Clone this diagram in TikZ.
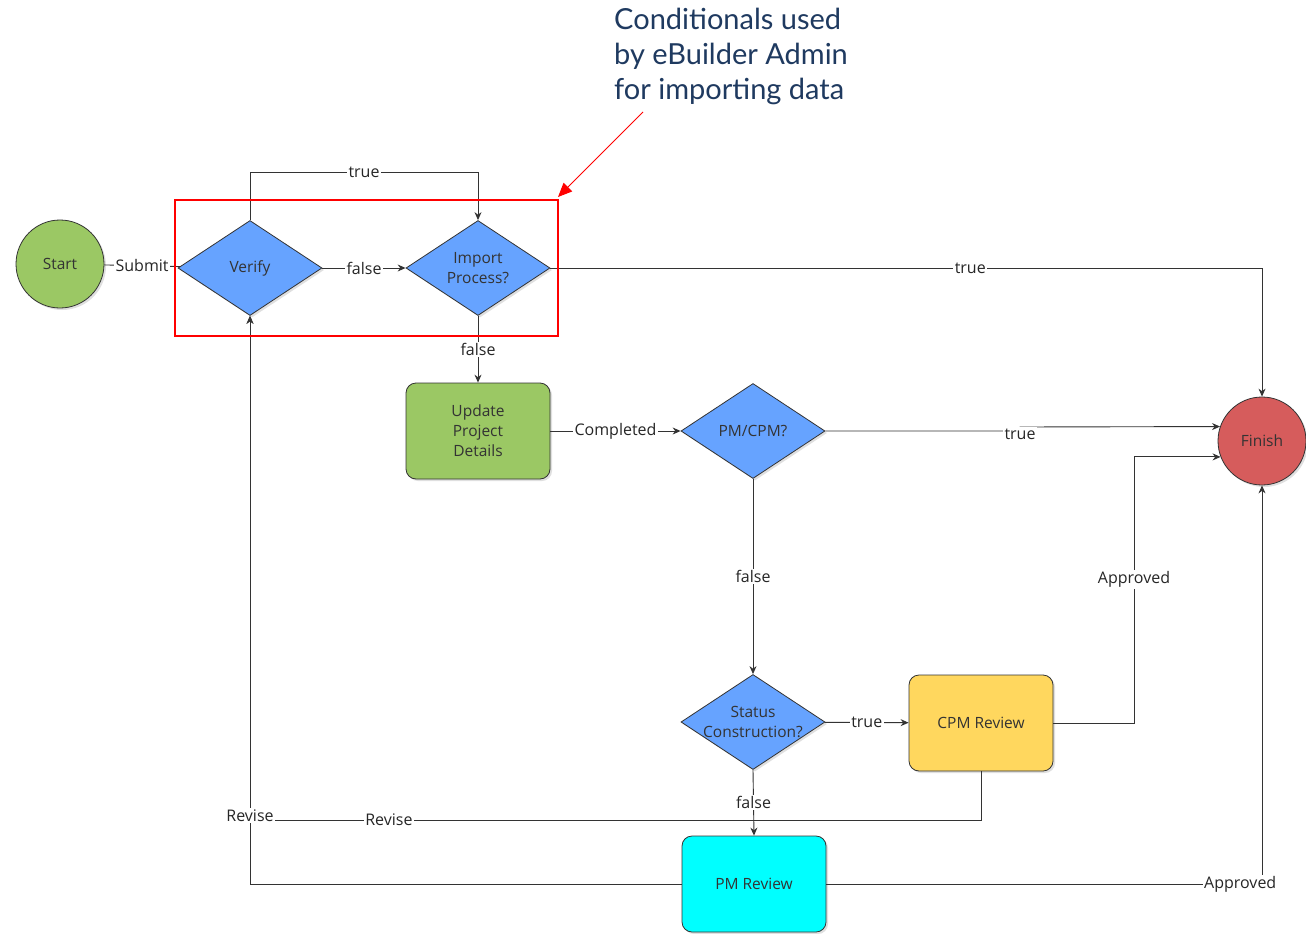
\documentclass[tikz,border=0pt]{standalone}
\usepackage{fontspec}
\setmainfont{Open Sans}
\newfontfamily\annfont{Lato}
\usetikzlibrary{shapes.geometric,arrows.meta,shadows}
\definecolor{dblue}{HTML}{66A3FF}
\definecolor{sgreen}{HTML}{9BC864}
\definecolor{fred}{HTML}{D65C5C}
\definecolor{cyel}{HTML}{FFD75E}
\definecolor{pmcyan}{HTML}{00FFFF}
\definecolor{linec}{HTML}{333333}
\definecolor{annc}{HTML}{1F3A60}
\tikzset{
  shad/.style={drop shadow={opacity=0.25,shadow xshift=2pt,shadow yshift=-2pt}},
  dec/.style={shape=diamond,draw=linec,fill=dblue,line width=0.8pt,minimum width=144pt,minimum height=95pt,inner sep=0pt,shad,
    label={[align=center,font=\fontsize{15.5}{20}\selectfont,text=black!80]center:#1}},
  rbox/.style={draw=linec,line width=0.8pt,rounded corners=10pt,minimum width=144pt,minimum height=96pt,align=center,
    font=\fontsize{15.5}{20}\selectfont,text=black!80,shad},
  term/.style={circle,draw=linec,line width=0.8pt,minimum size=88pt,inner sep=0pt,font=\fontsize{15.5}{18}\selectfont,text=black!80,shad},
  conn/.style={draw=linec,line width=0.9pt},
  arr/.style={conn,-{Stealth[length=8pt,width=7pt]}},
  lbl/.style={fill=white,inner sep=1.5pt,font=\fontsize{16}{18}\selectfont,text=black!85},
}
\begin{document}
\begin{tikzpicture}[x=1pt,y=-1pt]
\useasboundingbox[fill=white] (0,0) rectangle (1306,934);
% nodes
\node[term,fill=sgreen] (start) at (60,264) {Start};
\node[dec={Verify}] (verify) at (250,268) {};
\node[dec={Import\\Process?}] (import) at (478,268) {};
\node[rbox,fill=sgreen] (update) at (478,431) {Update\\Project\\Details};
\node[dec={PM/CPM?}] (pmcpm) at (753,431) {};
\node[dec={Status\\Construction?}] (status) at (753,722) {};
\node[rbox,fill=cyel] (cpm) at (981,723) {CPM Review};
\node[rbox,fill=pmcyan] (pm) at (754,884) {PM Review};
\node[term,fill=fred] (finish) at (1262,441) {Finish};
% connectors
\draw[conn] (start) -- node[lbl]{Submit} (verify);
\draw[arr] (verify) -- node[lbl]{false} (import);
\draw[arr] (verify.north) -- ++(0,-48) -| node[lbl,pos=0.25]{true} (import.north);
\draw[arr] (import.east) -| node[lbl,pos=0.295]{true} (finish.north);
\draw[arr] (import.south) -- node[lbl]{false} (update.north);
\draw[arr] (update) -- node[lbl]{Completed} (pmcpm);
\draw[arr] (pmcpm.east) -- (1020,431) node[lbl,yshift=-3pt]{true} -- (1020,427) -- (finish.161.5);
\draw[arr] (pmcpm.south) -- node[lbl]{false} (status.north);
\draw[arr] (status) -- node[lbl]{true} (cpm);
\draw[arr] (status.south) -- node[lbl]{false} (pm.north);
\draw[arr] (cpm.east) -- (1134,723) |- node[lbl,pos=0.27]{Approved} (finish.201.3);
\draw[arr] (pm.east) -| node[lbl,pos=0.475]{Approved} (finish.south);
\draw[arr] (cpm.south) -- (981,820) -| node[lbl,pos=0.405]{Revise} (verify.south);
\draw[arr] (pm.west) -| node[lbl,pos=0.56]{Revise} (verify.south);
% annotation
\draw[red,line width=1.5pt] (175,200) rectangle (558,336);
\node[anchor=north west,align=left,inner sep=0pt,text=annc,font=\annfont\fontsize{29}{35}\selectfont] (annot) at (614,8) {Conditionals used\\by eBuilder Admin\\for importing data};
\coordinate (redtip) at (558,197);
\draw[red,line width=1pt,-{Triangle[length=14pt,width=12pt]}] (643,112) -- (redtip);
\end{tikzpicture}
\end{document}
